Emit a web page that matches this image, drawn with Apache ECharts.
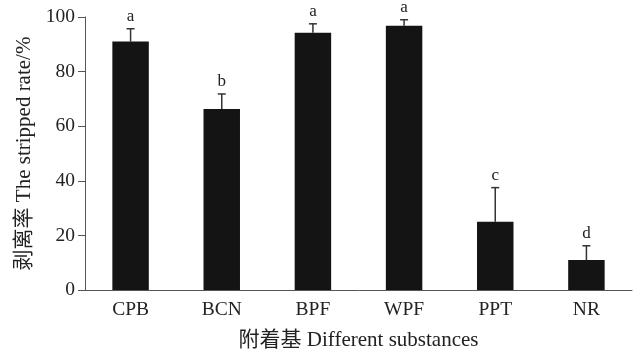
<!DOCTYPE html>
<html><head><meta charset="utf-8">
<script src="https://cdn.jsdelivr.net/npm/echarts@6/dist/echarts.min.js"></script>
<style>html,body{margin:0;padding:0;background:#fff}#c{width:641px;height:358px}</style>
</head><body><div id="c"></div>
<script>
var categories = ['CPB', 'BCN', 'BPF', 'WPF', 'PPT', 'NR'];
var values = [91, 66.3, 94.2, 96.8, 25, 11];
var errors = [4.7, 5.5, 3.3, 2.2, 12.5, 5.2];
var letters = ['a', 'b', 'a', 'a', 'c', 'd'];
var yTicks = [0, 20, 40, 60, 80, 100];

var serif = '"Liberation Serif", "Noto Sans CJK SC", serif';
var chart = echarts.init(document.getElementById('c'));
var errData = categories.map(function (c, i) { return [i, values[i], values[i] + errors[i], letters[i]]; });
chart.setOption({
  animation: false,
  grid: { left: 85, right: 9, top: 17, bottom: 68 },
  xAxis: {
    type: 'category', data: categories,
    name: '附着基 Different substances', nameLocation: 'middle', nameGap: 40,
    nameTextStyle: { fontFamily: serif, fontSize: 21, color: '#222' },
    axisLine: { lineStyle: { color: '#555', width: 1 } },
    axisTick: { inside: true, length: 5, lineStyle: { color: '#555' } },
    axisLabel: { fontFamily: serif, fontSize: 19.5, color: '#222', margin: 10 }
  },
  yAxis: {
    type: 'value', min: yTicks[0], max: yTicks[yTicks.length - 1], interval: 20,
    name: '剥离率 The stripped rate/%', nameLocation: 'middle', nameGap: 50,
    nameTextStyle: { fontFamily: serif, fontSize: 21, color: '#222' },
    axisLine: { show: true, lineStyle: { color: '#555', width: 1 } },
    axisTick: { show: true, length: 7, lineStyle: { color: '#555' } },
    axisLabel: { fontFamily: serif, fontSize: 19.5, color: '#222', margin: 10 },
    splitLine: { show: false }
  },
  series: [{
    type: 'bar', data: values, barWidth: '40%',
    itemStyle: { color: '#141414' }
  }, {
    type: 'custom', data: errData,
    renderItem: function (params, api) {
      var base = api.coord([api.value(0), api.value(1)]);
      var top = api.coord([api.value(0), api.value(2)]);
      var hw = 4;
      return {
        type: 'group',
        children: [
          { type: 'line', shape: { x1: base[0], y1: base[1], x2: top[0], y2: top[1] }, style: { stroke: '#333', lineWidth: 1.5 } },
          { type: 'line', shape: { x1: top[0] - hw, y1: top[1], x2: top[0] + hw, y2: top[1] }, style: { stroke: '#333', lineWidth: 1.5 } },
          { type: 'text', x: top[0], y: top[1] - 4, style: { text: api.value(3), textAlign: 'center', textVerticalAlign: 'bottom', font: '17px ' + serif, fill: '#222' } }
        ]
      };
    },
    encode: { x: 0, y: 2 }
  }]
});
</script></body></html>
